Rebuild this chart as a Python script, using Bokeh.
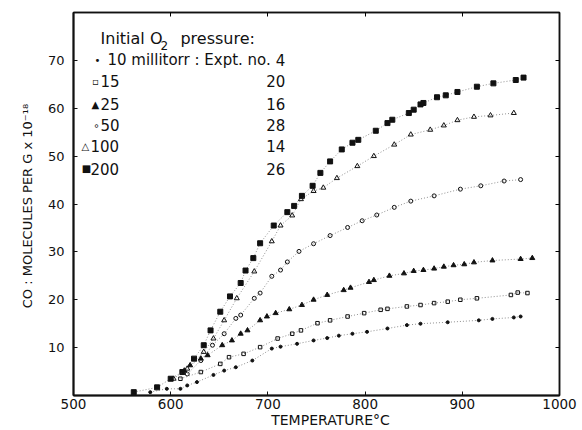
from bokeh.plotting import figure
from bokeh.models import LinearAxis, FixedTicker, Label, Range1d
from bokeh.embed import file_html
from bokeh.resources import INLINE

# ---- data (temperature in deg C, CO molecules per g x 1e-18) ----
t200 = [562, 586, 600, 612, 624, 634, 641, 651, 661, 672, 677, 685, 692, 706, 720, 727, 735, 746, 754, 764, 776, 787, 793, 811, 823, 828, 845, 850, 857, 860, 874, 883, 895, 915, 932, 955, 963]
y200 = [0.7, 1.7, 3.5, 4.9, 7.7, 10.5, 13.6, 17.5, 20.7, 23.5, 26.1, 28.7, 31.8, 35.5, 38.3, 39.6, 41.7, 43.8, 46.5, 48.9, 51.4, 52.8, 53.4, 55.3, 56.9, 57.6, 59.0, 59.7, 60.8, 61.1, 62.3, 62.7, 63.4, 64.5, 65.2, 65.9, 66.4]

t100 = [603, 617, 634, 644, 655, 668, 686, 704, 713, 725, 734, 747, 757, 771, 792, 809, 830, 847, 867, 881, 895, 912, 929, 953]
y100 = [3.5, 5.6, 9.1, 11.9, 15.7, 20.3, 25.9, 32.2, 35.5, 37.6, 41.0, 42.7, 43.4, 45.4, 47.9, 50.0, 52.4, 54.5, 55.5, 56.4, 57.5, 58.2, 58.5, 59.0]

t50 = [617, 631, 643, 655, 667, 672, 686, 692, 704, 713, 720, 732, 747, 764, 782, 797, 812, 830, 847, 871, 898, 919, 943, 960]
y50 = [4.5, 7.3, 10.5, 12.9, 16.1, 16.8, 20.3, 21.4, 24.9, 26.2, 27.9, 30.1, 31.7, 33.4, 35.1, 36.5, 37.7, 39.3, 40.6, 41.7, 43.1, 43.8, 44.8, 45.1]

t25 = [614, 620, 631, 638, 653, 663, 672, 679, 692, 699, 708, 722, 735, 747, 761, 778, 785, 804, 809, 825, 840, 850, 860, 871, 881, 891, 902, 912, 931, 960, 972]
y25 = [5.2, 6.3, 7.7, 8.4, 10.5, 11.5, 12.9, 13.6, 15.7, 16.5, 17.2, 18.0, 18.9, 20.0, 21.0, 22.0, 22.5, 23.7, 24.1, 25.0, 25.5, 26.0, 26.2, 26.5, 26.9, 27.2, 27.4, 27.8, 28.2, 28.5, 28.7]

t15 = [610, 631, 651, 660, 675, 692, 710, 725, 734, 751, 764, 782, 799, 816, 823, 843, 857, 871, 885, 898, 915, 950, 957, 967]
y15 = [3.5, 4.9, 6.6, 8.0, 8.7, 10.1, 11.9, 12.9, 13.6, 15.1, 15.7, 16.5, 17.2, 17.9, 18.1, 18.6, 18.9, 19.3, 19.6, 20.0, 20.3, 21.0, 21.5, 21.4]

t10 = [579, 596, 610, 617, 627, 644, 655, 667, 684, 704, 713, 730, 747, 761, 773, 787, 802, 823, 843, 857, 885, 917, 931, 953, 960]
y10 = [0.7, 1.4, 1.4, 2.1, 2.8, 4.3, 5.2, 5.9, 7.3, 9.8, 10.2, 10.8, 11.5, 12.0, 12.5, 12.9, 13.3, 14.0, 14.7, 15.0, 15.3, 15.7, 16.0, 16.3, 16.5]

x_ticks = [500, 600, 700, 800, 900, 1000]
y_ticks = [10, 20, 30, 40, 50, 60, 70]

legend_rows = [("\u2022", "10 millitorr : Expt. no.", "4"),
               ("\u25ab", "15", "20"),
               ("\u25b2", "25", "16"),
               ("\u2218", "50", "28"),
               ("\u25b3", "100", "14"),
               ("\u25a0", "200", "26")]

FONT = "DejaVu Sans"
INK = "#111111"

p = figure(width=582, height=430, output_backend="svg", toolbar_location=None,
           x_range=Range1d(500, 1000), y_range=Range1d(0, 80),
           min_border_left=73, min_border_right=23, min_border_top=12, min_border_bottom=33)
p.grid.visible = False
p.outline_line_color = INK
p.outline_line_width = 1.5

for ax in (p.xaxis[0], p.yaxis[0]):
    ax.axis_line_width = 2
    ax.axis_line_color = INK
    ax.major_tick_in = 4
    ax.major_tick_out = 0
    ax.minor_tick_line_color = None
    ax.major_tick_line_color = INK
    ax.major_label_text_font = FONT
    ax.major_label_text_color = INK
    ax.axis_label_text_font = FONT
    ax.axis_label_text_font_style = "normal"
    ax.axis_label_text_color = INK

p.xaxis.ticker = FixedTicker(ticks=x_ticks)
p.xaxis.major_label_text_font_size = "13.5px"
p.xaxis.major_label_standoff = 3
p.xaxis.axis_label = "\u2003\u2003TEMPERATURE\u00b0C"
p.xaxis.axis_label_text_font_size = "14px"
p.xaxis.axis_label_standoff = 0

p.yaxis.ticker = FixedTicker(ticks=y_ticks)
p.yaxis.major_label_text_font_size = "13px"
p.yaxis.major_label_standoff = 9
p.yaxis.axis_label = "CO : MOLECULES  PER G x 10\u207b\u00b9\u2078"
p.yaxis.axis_label_text_font_size = "13px"
p.yaxis.axis_label_standoff = 10

for loc, tk in (("above", x_ticks), ("right", y_ticks)):
    ax = LinearAxis(ticker=FixedTicker(ticks=tk),
                    major_label_overrides={t: "" for t in tk},
                    major_tick_in=4, major_tick_out=0, minor_tick_line_color=None,
                    axis_line_color=INK, axis_line_width=1.5, major_label_standoff=0)
    p.add_layout(ax, loc)

series = [
    (t200, y200, "square", INK, 5),
    (t100, y100, "triangle", None, 5),
    (t50, y50, "circle", None, 4),
    (t25, y25, "triangle", INK, 5),
    (t15, y15, "square", None, 3.5),
    (t10, y10, "circle", INK, 3),
]
for t, y, mk, fill, sz in series:
    p.line(t, y, line_color="#444444", line_width=0.6, line_dash="1 2")
    p.scatter(t, y, marker=mk, size=sz, line_color=INK, fill_color=fill, line_width=1)

# legend block (header)
p.add_layout(Label(x=527.8, y=74.6, text="Initial O", text_font=FONT,
                   text_font_size="16px", text_baseline="middle", text_color=INK))
p.add_layout(Label(x=589.5, y=73.2, text="2", text_font=FONT,
                   text_font_size="12px", text_baseline="middle", text_color=INK))
p.add_layout(Label(x=610.0, y=74.6, text="pressure:", text_font=FONT,
                   text_font_size="16px", text_baseline="middle", text_color=INK))

row_y = [70.0, 65.6, 60.8, 56.4, 52.1, 47.4]
mk_x = [524.7, 522.6, 522.6, 523.7, 512.3, 513.4]
tx_x = [534.9, 527.8, 527.8, 527.8, 517.5, 517.5]
for (mk, txt, num), yy, mx, tx in zip(legend_rows, row_y, mk_x, tx_x):
    p.add_layout(Label(x=mx, y=yy, text=mk, text_font=FONT, text_font_size="10px",
                       text_align="center", text_baseline="middle", text_color=INK))
    p.add_layout(Label(x=tx, y=yy, text=txt, text_font=FONT, text_font_size="15px",
                       text_baseline="middle", text_color=INK))
    p.add_layout(Label(x=718, y=yy, text=num, text_font=FONT, text_font_size="15px",
                       text_align="right", text_baseline="middle", text_color=INK))

open("out.html", "w").write(file_html(p, INLINE))
